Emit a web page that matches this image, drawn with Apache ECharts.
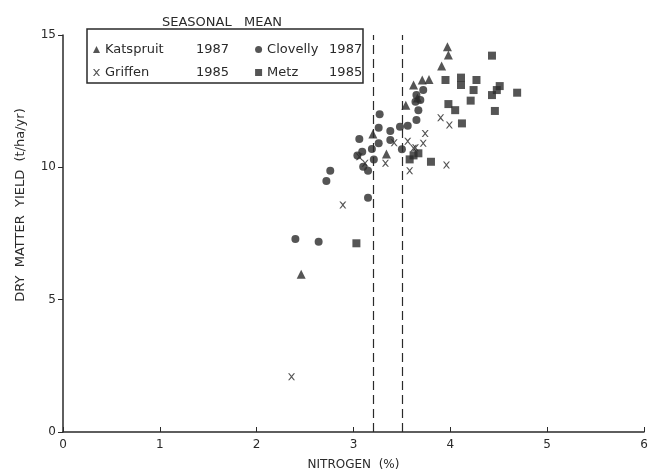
<!DOCTYPE html>
<html>
<head>
<meta charset="utf-8">
<script src="https://cdn.jsdelivr.net/npm/echarts@6/dist/echarts.min.js"></script>
<style>
  html, body { margin: 0; padding: 0; background: #fff; }
  #chart { width: 648px; height: 475px; }
</style>
</head>
<body>
<div id="chart"></div>
<script>
// seasonal mean values, [nitrogen %, yield t/ha/yr]
const katspruit = [
  [3.97, 14.56], [3.98, 14.24], [3.91, 13.83], [3.62, 13.11], [3.71, 13.3],
  [3.78, 13.32], [3.54, 12.35], [3.66, 12.62], [3.2, 11.26], [3.34, 10.5],
  [2.46, 5.96]
];
const clovelly = [
  [2.4, 7.29], [2.64, 7.19], [2.76, 9.87], [2.72, 9.48], [3.15, 8.85],
  [3.27, 12.01], [3.26, 11.5], [3.38, 11.37], [3.48, 11.53], [3.56, 11.57],
  [3.06, 11.07], [3.26, 10.91], [3.19, 10.69], [3.09, 10.59], [3.21, 10.3],
  [3.1, 10.02], [3.15, 9.87], [3.38, 11.03], [3.5, 10.68], [3.65, 11.79],
  [3.65, 12.73], [3.64, 12.48], [3.69, 12.54], [3.72, 12.92], [3.67, 12.16],
  [3.04, 10.45]
];
const griffen = [
  [2.36, 2.09], [2.89, 8.58], [3.06, 10.4], [3.33, 10.15], [3.42, 10.93],
  [3.56, 10.99], [3.64, 10.74], [3.58, 9.87], [3.74, 11.28], [3.72, 10.91],
  [3.9, 11.87], [3.99, 11.6], [3.96, 10.09], [3.62, 10.72], [3.12, 10.15]
];
const metz = [
  [3.03, 7.13], [3.58, 10.3], [3.67, 10.53], [3.62, 10.45], [3.8, 10.21],
  [3.95, 13.3], [4.11, 13.39], [4.11, 13.11], [4.27, 13.3], [4.24, 12.92],
  [4.21, 12.52], [4.43, 12.73], [4.48, 12.92], [4.51, 13.07], [4.69, 12.82],
  [4.46, 12.13], [4.43, 14.22], [3.98, 12.39], [4.05, 12.16], [4.12, 11.66]
];
const criticalN = [3.2, 3.5];
const xTicks = [0, 1, 2, 3, 4, 5, 6];
const yTicks = [0, 5, 10, 15];

const ink = '#2a2a2a';
const font = 'DejaVu Sans';
const crossPath = 'path://M0,0 L2,0 L5,3.5 L8,0 L10,0 L6,5 L10,10 L8,10 L5,6.5 L2,10 L0,10 L4,5 Z';

// legend columns have different name widths
const legendCol = {
  'Katspruit 1987': 'a', 'Griffen 1985': 'a',
  'Clovelly 1987': 'c', 'Metz 1985': 'c'
};
function legendLabel(name) {
  const i = name.lastIndexOf(' ');
  const k = legendCol[name];
  return '{' + k + '|' + name.slice(0, i) + '}{y|' + name.slice(i + 1) + '}';
}
const legendRich = {
  a: { width: 91, fontFamily: font, fontSize: 13, color: ink },
  c: { width: 62, fontFamily: font, fontSize: 13, color: ink },
  y: { width: 33, fontFamily: font, fontSize: 13, color: ink }
};
function makeLegend(top, names) {
  return {
    left: 88,
    top: top,
    itemWidth: 7,
    itemHeight: 7,
    itemGap: 26,
    data: names,
    formatter: legendLabel,
    textStyle: { rich: legendRich }
  };
}

const chart = echarts.init(document.getElementById('chart'));
chart.setOption({
  backgroundColor: '#fff',
  animation: false,
  title: {
    text: 'SEASONAL   MEAN',
    left: 217,
    top: 11,
    textAlign: 'center',
    textStyle: { fontFamily: font, fontSize: 13, fontWeight: 'normal', color: ink }
  },
  legend: [
    makeLegend(38, ['Katspruit 1987', 'Clovelly 1987']),
    makeLegend(61, ['Griffen 1985', 'Metz 1985'])
  ],
  graphic: [
    {
      type: 'rect',
      shape: { x: 87, y: 29, width: 276, height: 54 },
      style: { fill: 'none', stroke: ink, lineWidth: 1.5 }
    },
    {
      type: 'text',
      x: 21,
      y: 205,
      rotation: Math.PI / 2,
      style: {
        text: 'DRY  MATTER  YIELD  (t/ha/yr)',
        fontFamily: font,
        fontSize: 13,
        fill: ink,
        align: 'center',
        verticalAlign: 'middle'
      }
    }
  ],
  grid: { left: 63, right: 4, top: 35, bottom: 43, outerBoundsMode: 'none' },
  xAxis: {
    type: 'value',
    min: xTicks[0],
    max: xTicks[xTicks.length - 1],
    interval: 1,
    name: 'NITROGEN  (%)',
    nameLocation: 'middle',
    nameGap: 27,
    nameTextStyle: { fontFamily: font, fontSize: 12, color: ink },
    axisLine: { lineStyle: { color: ink, width: 1.5 } },
    axisTick: { inside: true, length: 5, lineStyle: { color: ink } },
    axisLabel: { fontFamily: font, fontSize: 12, color: ink, margin: 7 },
    splitLine: { show: false }
  },
  yAxis: {
    type: 'value',
    min: yTicks[0],
    max: yTicks[yTicks.length - 1],
    interval: 5,
    axisLine: { show: true, lineStyle: { color: ink, width: 1.5 } },
    axisTick: { show: true, length: 5, lineStyle: { color: ink } },
    axisLabel: { fontFamily: font, fontSize: 12, color: ink, margin: 7 },
    splitLine: { show: false }
  },
  series: [
    {
      name: 'Katspruit 1987',
      type: 'scatter',
      symbol: 'triangle',
      symbolSize: 9,
      itemStyle: { color: ink },
      data: katspruit,
      markLine: {
        silent: true,
        symbol: 'none',
        label: { show: false },
        lineStyle: { color: ink, type: [9, 5], width: 1.2 },
        data: criticalN.map(v => ({ xAxis: v }))
      }
    },
    {
      name: 'Clovelly 1987',
      type: 'scatter',
      symbol: 'circle',
      symbolSize: 8,
      itemStyle: { color: ink },
      data: clovelly
    },
    {
      name: 'Griffen 1985',
      type: 'scatter',
      symbol: crossPath,
      symbolSize: 7,
      itemStyle: { color: ink },
      data: griffen
    },
    {
      name: 'Metz 1985',
      type: 'scatter',
      symbol: 'rect',
      symbolSize: 8,
      itemStyle: { color: ink },
      data: metz
    }
  ]
});
</script>
</body>
</html>
